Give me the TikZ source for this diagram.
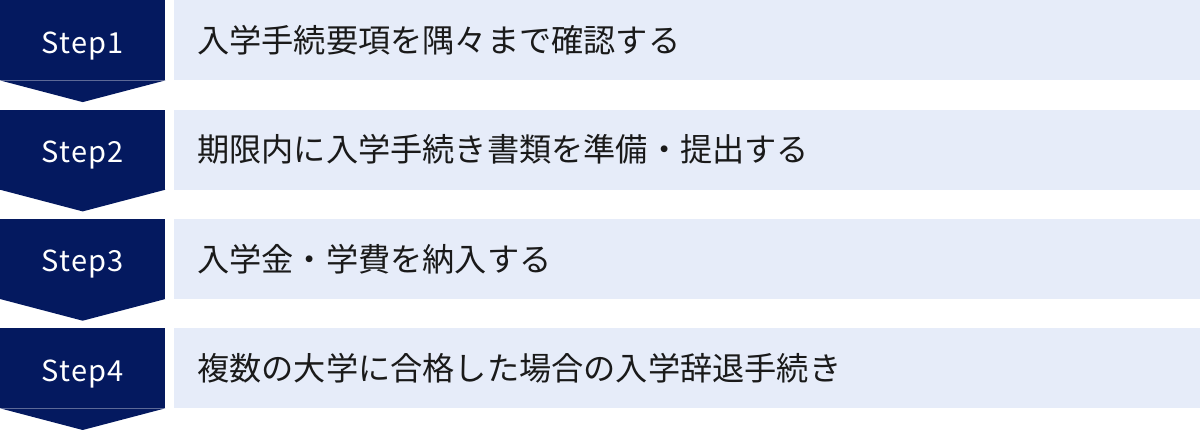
\documentclass[tikz,border=0pt]{standalone}
\usepackage{fontspec}
\setmainfont{Noto Sans CJK JP}
\newfontface\stepfont[LetterSpace=4]{Noto Sans CJK JP}
\usetikzlibrary{positioning}
\definecolor{navy}{HTML}{04195F}
\definecolor{paleblue}{HTML}{E6ECF9}
\definecolor{inkgray}{HTML}{1A1A1A}

\begin{document}
\begin{tikzpicture}[x=1pt,y=-1pt,
    stepbox/.style={rectangle,fill=navy,text=white,inner sep=0pt,
      minimum width=165pt,minimum height=80pt,anchor=north west,
      text height=26pt,text depth=0pt,font=\stepfont\fontsize{29}{29}\selectfont},
    taskbox/.style={rectangle,fill=paleblue,text=inkgray,inner xsep=23pt,
      inner ysep=0pt,minimum width=1026pt,minimum height=80pt,
      text width=980pt,align=left,anchor=north west,
      text height=24.5pt,text depth=0pt,font=\fontsize{32.2}{32.2}\selectfont},
    tip/.style={fill=navy}]
    \useasboundingbox (0,0) rectangle (1200,429);

    \node[stepbox] (step1) at (0,0) {Step1};
    \fill[tip] (step1.south west) -- (step1.south east)
      -- ([yshift=-21.7pt]step1.south) -- cycle;
    \node[taskbox] (task1) at (174,0) {入学手続要項を隅々まで確認する};

    \node[stepbox] (step2) at (0,109.3) {Step2};
    \fill[tip] (step2.south west) -- (step2.south east)
      -- ([yshift=-21.7pt]step2.south) -- cycle;
    \node[taskbox] (task2) at (174,109.3) {期限内に入学手続き書類を準備・提出する};

    \node[stepbox] (step3) at (0,218.6) {Step3};
    \fill[tip] (step3.south west) -- (step3.south east)
      -- ([yshift=-21.7pt]step3.south) -- cycle;
    \node[taskbox] (task3) at (174,218.6) {入学金・学費を納入する};

    \node[stepbox] (step4) at (0,327.9) {Step4};
    \fill[tip] (step4.south west) -- (step4.south east)
      -- ([yshift=-21.7pt]step4.south) -- cycle;
    \node[taskbox] (task4) at (174,327.9) {複数の大学に合格した場合の入学辞退手続き};
  \end{tikzpicture}
\end{document}
